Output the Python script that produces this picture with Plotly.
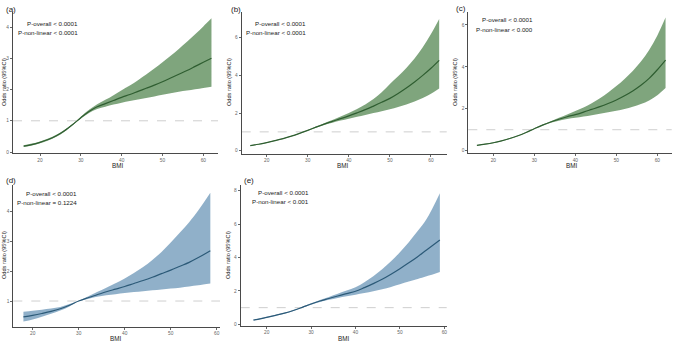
import plotly.graph_objects as go

# ---------------- data ----------------
bmi_a = [16, 18, 20, 22, 24, 26, 28, 30, 32, 34, 36, 38, 40, 42, 44, 46, 48, 50, 52, 54, 56, 58, 60, 62]
or_a = [0.19, 0.24, 0.31, 0.40, 0.52, 0.68, 0.88, 1.10, 1.30, 1.45, 1.55, 1.65, 1.75, 1.84, 1.94, 2.04, 2.14, 2.25, 2.37, 2.49, 2.61, 2.74, 2.87, 3.00]
lo_a = [0.16, 0.21, 0.28, 0.37, 0.49, 0.65, 0.86, 1.07, 1.25, 1.38, 1.45, 1.52, 1.58, 1.63, 1.68, 1.73, 1.78, 1.83, 1.88, 1.93, 1.97, 2.01, 2.05, 2.09]
up_a = [0.22, 0.27, 0.34, 0.43, 0.55, 0.71, 0.90, 1.13, 1.35, 1.53, 1.67, 1.82, 1.98, 2.13, 2.30, 2.48, 2.67, 2.87, 3.08, 3.30, 3.53, 3.77, 4.02, 4.28]

bmi_b = [16, 18, 20, 22, 24, 26, 28, 30, 32, 34, 36, 38, 40, 42, 44, 46, 48, 50, 52, 54, 56, 58, 60, 62]
or_b = [0.27, 0.34, 0.43, 0.53, 0.64, 0.77, 0.92, 1.08, 1.25, 1.41, 1.56, 1.70, 1.85, 2.01, 2.18, 2.37, 2.57, 2.78, 3.04, 3.33, 3.65, 4.00, 4.38, 4.80]
lo_b = [0.25, 0.32, 0.41, 0.51, 0.62, 0.75, 0.90, 1.06, 1.22, 1.37, 1.49, 1.60, 1.70, 1.80, 1.90, 2.00, 2.10, 2.20, 2.32, 2.46, 2.62, 2.80, 3.02, 3.30]
up_b = [0.29, 0.36, 0.45, 0.55, 0.66, 0.79, 0.94, 1.10, 1.28, 1.46, 1.63, 1.81, 2.00, 2.22, 2.46, 2.74, 3.10, 3.55, 3.95, 4.40, 4.90, 5.50, 6.20, 7.00]

bmi_c = [16, 18, 20, 22, 24, 26, 28, 30, 32, 34, 36, 38, 40, 42, 44, 46, 48, 50, 52, 54, 56, 58, 60, 62]
or_c = [0.25, 0.31, 0.38, 0.47, 0.58, 0.71, 0.87, 1.05, 1.22, 1.37, 1.50, 1.62, 1.72, 1.84, 1.97, 2.10, 2.25, 2.42, 2.62, 2.85, 3.12, 3.45, 3.86, 4.32]
lo_c = [0.23, 0.29, 0.36, 0.45, 0.56, 0.69, 0.85, 1.03, 1.19, 1.33, 1.43, 1.51, 1.57, 1.63, 1.69, 1.76, 1.83, 1.90, 1.99, 2.10, 2.23, 2.40, 2.65, 2.99]
up_c = [0.27, 0.33, 0.40, 0.49, 0.60, 0.73, 0.89, 1.07, 1.25, 1.41, 1.57, 1.73, 1.89, 2.06, 2.26, 2.50, 2.77, 3.08, 3.42, 3.80, 4.25, 4.80, 5.50, 6.35]

bmi_d = [18, 20, 22, 24, 26, 28, 30, 32, 34, 36, 38, 40, 42, 44, 46, 48, 50, 52, 54, 56, 58.6]
or_d = [0.47, 0.52, 0.58, 0.65, 0.74, 0.86, 1.00, 1.11, 1.21, 1.31, 1.40, 1.49, 1.59, 1.69, 1.80, 1.92, 2.04, 2.17, 2.30, 2.46, 2.69]
lo_d = [0.31, 0.38, 0.47, 0.57, 0.68, 0.82, 0.99, 1.07, 1.14, 1.19, 1.23, 1.27, 1.30, 1.33, 1.36, 1.39, 1.42, 1.45, 1.49, 1.53, 1.59]
up_d = [0.64, 0.67, 0.71, 0.75, 0.80, 0.90, 1.01, 1.15, 1.30, 1.45, 1.60, 1.76, 1.94, 2.14, 2.38, 2.65, 2.97, 3.30, 3.65, 4.05, 4.64]

bmi_e = [17, 18, 20, 22, 24, 26, 28, 30, 32, 34, 36, 38, 40, 42, 44, 46, 48, 50, 52, 54, 56, 59]
or_e = [0.26, 0.30, 0.42, 0.54, 0.67, 0.83, 1.02, 1.22, 1.40, 1.55, 1.70, 1.84, 1.98, 2.20, 2.44, 2.70, 3.00, 3.33, 3.68, 4.05, 4.45, 5.05]
lo_e = [0.23, 0.27, 0.39, 0.51, 0.64, 0.80, 0.99, 1.18, 1.34, 1.47, 1.58, 1.68, 1.77, 1.87, 1.98, 2.10, 2.24, 2.40, 2.56, 2.72, 2.88, 3.14]
up_e = [0.29, 0.33, 0.45, 0.57, 0.70, 0.86, 1.05, 1.26, 1.46, 1.64, 1.83, 2.02, 2.22, 2.52, 2.88, 3.30, 3.78, 4.32, 4.92, 5.58, 6.30, 7.85]

panel_labels = ["(a)", "(b)", "(c)", "(d)", "(e)"]
p_overall = ["P-overall < 0.0001"] * 5
p_nonlinear = ["P-non-linear < 0.0001", "P-non-linear < 0.0001", "P-non-linear < 0.000",
               "P-non-linear = 0.1224", "P-non-linear < 0.001"]
x_title = "BMI"
y_title = "Odds ratio (95%CI)"

# ---------------- layout constants ----------------
W, H = 676, 343
GREEN_FILL, GREEN_LINE = "rgba(120,160,118,0.95)", "#2f5e31"
BLUE_FILL, BLUE_LINE = "rgba(138,172,198,0.95)", "#2c5a78"
FONT = "Liberation Sans, Arial, sans-serif"

def px(x):
    return x / W

def py(y):
    return 1 - y / H

panels = [
    dict(box=(13, 218, 12, 153.3), xr=(13.38, 63.6), yr=(-0.04, 4.48), yt=[0, 1, 2, 3, 4],
         data=(bmi_a, or_a, lo_a, up_a), fill=GREEN_FILL, line=GREEN_LINE,
         lab=(4, 3), ptxt=(80, 23), xt=(117, 165), yti=(4, 82)),
    dict(box=(241.7, 446.7, 12, 153.5), xr=(13.91, 63.83), yr=(-0.15, 7.37), yt=[0, 2, 4, 6],
         data=(bmi_b, or_b, lo_b, up_b), fill=GREEN_FILL, line=GREEN_LINE,
         lab=(229, 3), ptxt=(308, 23), xt=(342, 165), yti=(229, 82)),
    dict(box=(468.3, 671.7, 11.7, 153), xr=(13.9, 63.5), yr=(-0.11, 6.63), yt=[0, 2, 4, 6],
         data=(bmi_c, or_c, lo_c, up_c), fill=GREEN_FILL, line=GREEN_LINE,
         lab=(454, 2), ptxt=(535, 20), xt=(571, 165), yti=(455, 82)),
    dict(box=(13.3, 220, 185, 326.7), xr=(15.8, 60.7), yr=(0.137, 4.9), yt=[1, 2, 3, 4],
         data=(bmi_d, or_d, lo_d, up_d), fill=BLUE_FILL, line=BLUE_LINE,
         lab=(4, 174), ptxt=(79, 193), xt=(115, 338), yti=(4, 255)),
    dict(box=(240.7, 446.7, 185, 325.7), xr=(14.14, 60.54), yr=(-0.08, 8.34), yt=[0, 2, 4, 6, 8],
         data=(bmi_e, or_e, lo_e, up_e), fill=BLUE_FILL, line=BLUE_LINE,
         lab=(242, 174), ptxt=(311, 192), xt=(343, 338), yti=(228, 255)),
]

fig = go.Figure()
layout = dict(width=W, height=H, margin=dict(l=0, r=0, t=0, b=0),
              paper_bgcolor="white", plot_bgcolor="white", showlegend=False,
              font=dict(family=FONT, color="#222222"))
annotations = []
shapes = []

for i, p in enumerate(panels):
    n = "" if i == 0 else str(i + 1)
    xa, ya = "x" + n, "y" + n
    bx, or_v, lo_v, up_v = p["data"]
    fig.add_trace(go.Scatter(x=bx, y=lo_v, mode="lines", line=dict(width=0, shape="spline"),
                             xaxis=xa, yaxis=ya, hoverinfo="skip"))
    fig.add_trace(go.Scatter(x=bx, y=up_v, mode="lines", line=dict(width=0, shape="spline"),
                             fill="tonexty", fillcolor=p["fill"], xaxis=xa, yaxis=ya, hoverinfo="skip"))
    fig.add_trace(go.Scatter(x=bx, y=or_v, mode="lines", line=dict(width=1.2, color=p["line"], shape="spline"),
                             xaxis=xa, yaxis=ya))
    x0, x1, yt0, yb0 = p["box"]
    axstyle = dict(showgrid=False, zeroline=False, showline=True, linecolor="#4a4a4a", linewidth=1,
                   ticks="outside", ticklen=2, tickcolor="#666666", tickwidth=0.7,
                   tickfont=dict(size=4.8, color="#666666", family=FONT))
    layout["xaxis" + n] = dict(domain=[px(x0), px(x1)], range=list(p["xr"]), anchor=ya,
                               tickvals=[20, 30, 40, 50, 60], **axstyle)
    layout["yaxis" + n] = dict(domain=[py(yb0), py(yt0)], range=list(p["yr"]), anchor=xa,
                               tickvals=p["yt"], **axstyle)
    shapes.append(dict(type="line", xref=xa + " domain", yref=ya, x0=0, x1=1, y0=1, y1=1,
                       line=dict(color="#c8c8c8", width=0.9, dash="dash"), layer="below"))
    lx, ly = p["lab"]
    annotations.append(dict(text=panel_labels[i], x=px(lx), y=py(ly), xref="paper", yref="paper",
                            xanchor="left", yanchor="top", showarrow=False,
                            font=dict(size=8, color="#222222")))
    tx, ty = p["ptxt"]
    annotations.append(dict(text=p_overall[i], x=px(tx), y=py(ty), xref="paper", yref="paper",
                            xanchor="right", yanchor="middle", showarrow=False,
                            font=dict(size=6.2, color="#222222")))
    annotations.append(dict(text=p_nonlinear[i], x=px(tx), y=py(ty + 9.3), xref="paper", yref="paper",
                            xanchor="right", yanchor="middle", showarrow=False,
                            font=dict(size=6.2, color="#222222")))
    bxp, byp = p["xt"]
    annotations.append(dict(text=x_title, x=px(bxp), y=py(byp), xref="paper", yref="paper",
                            xanchor="center", yanchor="middle", showarrow=False,
                            font=dict(size=6.3, color="#222222")))
    yxp, yyp = p["yti"]
    annotations.append(dict(text=y_title, x=px(yxp), y=py(yyp), xref="paper", yref="paper",
                            xanchor="center", yanchor="middle", showarrow=False, textangle=-90,
                            font=dict(size=5.6, color="#222222")))

layout["annotations"] = annotations
layout["shapes"] = shapes
fig.update_layout(**layout)
fig.write_html("out.html", config={"displayModeBar": False},
               post_script="document.body.style.margin='0';document.body.style.overflow='hidden';")
